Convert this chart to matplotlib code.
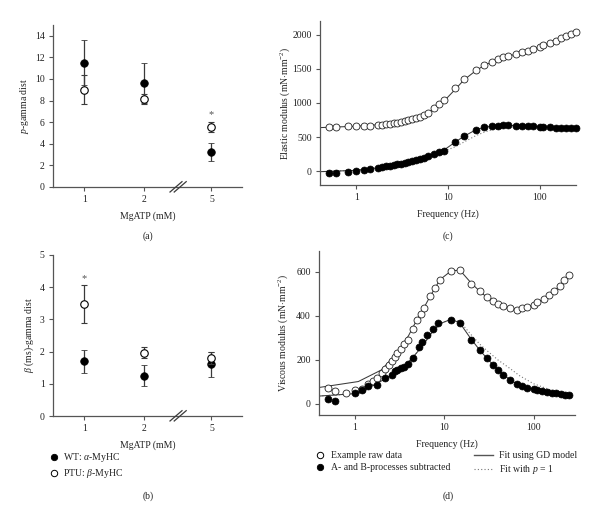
import matplotlib
matplotlib.use("Agg")
import matplotlib.pyplot as plt
import numpy as np
from matplotlib.lines import Line2D
from matplotlib.ticker import NullLocator, FixedLocator

plt.rcParams['font.family'] = ['Liberation Serif', 'DejaVu Serif']
plt.rcParams['mathtext.fontset'] = 'custom'
plt.rcParams['mathtext.rm'] = 'Liberation Serif'
plt.rcParams['mathtext.it'] = 'Liberation Serif:italic'
plt.rcParams['font.size'] = 7

FS = 7

# ---------------- data: panels (a), (b) ----------------
mgatp_labels = ['1', '2', '5']
mgatp_pos = [1.0, 2.0, 3.12]

p_wt = [11.5, 9.65, 3.25]
p_wt_err = [2.1, 1.85, 0.85]
p_ptu = [9.0, 8.15, 5.55]
p_ptu_err = [1.35, 0.45, 0.45]

beta_wt = [1.7, 1.25, 1.6]
beta_wt_err = [0.35, 0.33, 0.38]
beta_ptu = [3.48, 1.97, 1.8]
beta_ptu_err = [0.6, 0.18, 0.2]

# ---------------- data: panel (c) elastic modulus ----------------
freq_c = [0.5, 0.6, 0.8, 1.0, 1.2, 1.4, 1.7, 1.9, 2.1, 2.3, 2.6, 2.8, 3.1, 3.4,
          3.7, 4.0, 4.5, 5.0, 5.5, 6.0, 7.0, 8.0, 9.0, 12, 15, 20, 25, 30, 35,
          40, 45, 55, 65, 75, 85, 100, 110, 130, 150, 170, 195, 220, 250]
elastic_raw = [650, 650, 660, 665, 665, 670, 675, 685, 690, 695, 700, 710, 720,
               730, 745, 760, 780, 800, 830, 860, 920, 985, 1040, 1215, 1350,
               1478, 1558, 1607, 1640, 1670, 1692, 1718, 1743, 1767, 1791, 1825,
               1850, 1883, 1912, 1946, 1980, 2015, 2039]
elastic_sub = [-20, -28, -5, 12, 22, 30, 44, 58, 72, 80, 90, 100, 110, 120, 135,
               150, 165, 180, 200, 225, 255, 280, 295, 427, 515, 605, 645, 660,
               668, 675, 672, 668, 668, 663, 658, 653, 648, 643, 640, 638, 637,
               636, 635]
fit_freq_c = [0.4, 1.0, 2.0, 3.0, 4.0, 5.0, 6.0, 7.0, 8.0, 9.0, 12, 15, 20, 25,
              30, 40, 55, 70, 100, 150, 250]
fit_raw_c = [640, 660, 688, 718, 758, 800, 855, 912, 968, 1025, 1200, 1340, 1470,
             1552, 1600, 1665, 1715, 1752, 1818, 1908, 2035]
fit_sub_c = [-5, 15, 62, 108, 148, 185, 222, 255, 282, 310, 428, 515, 605, 645,
             660, 672, 670, 665, 655, 645, 637]
fit_p1_c = [-5, 15, 62, 108, 148, 185, 222, 250, 272, 292, 360, 430, 520, 575,
            605, 635, 648, 650, 648, 642, 636]

# ---------------- data: panel (d) viscous modulus ----------------
freq_d = [0.5, 0.6, 0.8, 1.0, 1.2, 1.4, 1.6, 1.8, 2.0, 2.2, 2.4, 2.6, 2.8, 3.0,
          3.3, 3.6, 3.9, 4.5, 5.0, 5.5, 6.0, 7.0, 8.0, 9.0, 12, 15, 20, 25, 30,
          35, 40, 45, 55, 65, 75, 85, 100, 110, 130, 150, 170, 195, 220, 250]
viscous_raw = [72, 58, 50, 62, 68, 90, 105, 118, 140, 160, 178, 195, 212, 232,
               250, 272, 290, 340, 383, 410, 435, 490, 527, 562, 605, 610, 547,
               512, 485, 467, 456, 444, 436, 428, 435, 442, 450, 465, 477, 495,
               515, 538, 562, 588]
freq_d_sub = [0.5, 0.6, 1.0, 1.2, 1.4, 1.8, 2.2, 2.6, 2.8, 3.0, 3.3, 3.6, 3.9,
              4.5, 5.3, 5.7, 6.5, 7.5, 8.5, 12, 15, 20, 25, 30, 35, 40, 45, 55,
              65, 75, 85, 100, 110, 125, 140, 160, 180, 200, 225, 250]
viscous_sub = [22, 15, 50, 62, 80, 88, 118, 130, 150, 156, 163, 170, 180, 208,
               258, 280, 315, 342, 368, 383, 370, 292, 244, 207, 178, 155, 132,
               108, 90, 80, 73, 67, 63, 59, 55, 51, 48, 45, 43, 41]
fit_freq_d = [0.4, 1.1, 2.0, 2.5, 3.0, 4.0, 5.0, 6.0, 7.0, 8.0, 9.0, 12, 15, 20,
              25, 30, 40, 55, 70, 100, 150, 200, 250]
fit_raw_d = [75, 102, 155, 198, 235, 310, 385, 440, 490, 530, 565, 605, 608, 550,
             512, 485, 455, 436, 430, 450, 495, 540, 588]
fit_sub_d = [36, 48, 105, 128, 150, 190, 235, 275, 315, 342, 365, 385, 368, 295,
             245, 208, 155, 108, 85, 67, 54, 47, 42]
fit_p1_d = [36, 48, 105, 128, 150, 190, 235, 275, 315, 342, 365, 385, 375, 315,
            272, 243, 200, 160, 128, 92, 66, 54, 46]

# ---------------- figure ----------------
fig = plt.figure(figsize=(6.0, 5.21), dpi=100)

W, H = 600.0, 521.0
def ax_at(left, top, right, bottom):
    return fig.add_axes([left / W, 1 - bottom / H, (right - left) / W, (bottom - top) / H])

axA = ax_at(53, 25, 242, 187)
axB = ax_at(53, 255, 242, 416)
axC = ax_at(320, 21, 576, 185)
axD = ax_at(319, 251, 575, 415)

spine_col = '#555555'
line_col = '#3a3a3a'
text_col = '#222222'

def style(ax):
    for s in ['top', 'right']:
        ax.spines[s].set_visible(False)
    for s in ['left', 'bottom']:
        ax.spines[s].set_color(spine_col)
        ax.spines[s].set_linewidth(0.9)
    ax.tick_params(direction='out', length=3, width=0.8, color=spine_col,
                   labelsize=FS, labelcolor=text_col, pad=3)

def mgatp_panel(ax, wt, wt_err, ptu, ptu_err, ylim, yticks, ylabel):
    style(ax)
    ax.errorbar(mgatp_pos, wt, yerr=wt_err, fmt='o', ms=5.4, mfc='black',
                mec='black', mew=0.6, ecolor=line_col, elinewidth=0.9,
                capsize=2.3, capthick=0.9, zorder=3)
    ax.errorbar(mgatp_pos, ptu, yerr=ptu_err, fmt='o', ms=5.4, mfc='white',
                mec='black', mew=0.8, ecolor=line_col, elinewidth=0.9,
                capsize=2.3, capthick=0.9, zorder=4)
    ax.set_xlim(0.48, 3.63)
    ax.set_ylim(*ylim)
    ax.set_xticks(mgatp_pos)
    ax.set_xticklabels(mgatp_labels)
    ax.set_yticks(yticks)
    ax.set_xlabel('MgATP (mM)', color=text_col, labelpad=5)
    ax.set_ylabel(ylabel, color=text_col, labelpad=2.5)
    tr = ax.get_xaxis_transform()
    for x0, x1 in [(2.43, 2.63), (2.50, 2.70)]:
        ax.plot([x0, x1], [-0.031, 0.033], color=line_col, lw=0.9,
                transform=tr, clip_on=False, zorder=5)

mgatp_panel(axA, p_wt, p_wt_err, p_ptu, p_ptu_err, (0, 15), range(0, 15, 2),
            r'$p$-gamma dist')
axA.text(mgatp_pos[2], 6.25, '*', ha='center', va='bottom', fontsize=7.5, color='#555555')

mgatp_panel(axB, beta_wt, beta_wt_err, beta_ptu, beta_ptu_err, (0, 5), range(0, 6),
            r'$\beta$ (ms)-gamma dist')
axB.text(mgatp_pos[0], 4.12, '*', ha='center', va='bottom', fontsize=7.5, color='#555555')

leg_b = [Line2D([], [], ls='none', marker='o', ms=4.6, mfc='black', mec='black', mew=0.6),
         Line2D([], [], ls='none', marker='o', ms=4.6, mfc='white', mec='black', mew=0.7)]
fig.legend(leg_b, [r'WT: $\alpha$-MyHC', r'PTU: $\beta$-MyHC'], loc='upper left',
           bbox_to_anchor=(50 / W, 1 - 451 / H), frameon=False, fontsize=FS,
           handlelength=0.9, handletextpad=0.45, labelspacing=0.3, borderpad=0,
           borderaxespad=0, labelcolor=text_col)

def freq_panel(ax):
    style(ax)
    ax.set_xscale('log')
    ax.xaxis.set_major_locator(FixedLocator([1, 10, 100]))
    ax.xaxis.set_minor_locator(NullLocator())
    ax.set_xticklabels(['1', '10', '100'])
    ax.set_xlabel('Frequency (Hz)', color=text_col, labelpad=5)

# panel (c)
freq_panel(axC)
axC.plot(fit_freq_c, fit_p1_c, color='#777777', lw=0.8, ls=(0, (1, 2)), zorder=2)
axC.plot(fit_freq_c, fit_raw_c, color=line_col, lw=0.75, zorder=2)
axC.plot(fit_freq_c, fit_sub_c, color=line_col, lw=0.75, zorder=2)
axC.plot(freq_c, elastic_raw, ls='none', marker='o', ms=5.0, mfc='white',
         mec='#222222', mew=0.6, zorder=3, clip_on=False)
axC.plot(freq_c, elastic_sub, ls='none', marker='o', ms=5.0, mfc='black',
         mec='black', mew=0.5, zorder=3, clip_on=False)
axC.set_xlim(0.4, 250)
axC.set_ylim(-200, 2200)
axC.set_yticks([0, 500, 1000, 1500, 2000])
axC.set_ylabel(r'Elastic modulus (mN$\cdot$mm$^{-2}$)', color=text_col, labelpad=0)

# panel (d)
freq_panel(axD)
axD.plot(fit_freq_d, fit_p1_d, color='#777777', lw=0.8, ls=(0, (1, 2)), zorder=2)
axD.plot(fit_freq_d, fit_raw_d, color=line_col, lw=0.75, zorder=2)
axD.plot(fit_freq_d, fit_sub_d, color=line_col, lw=0.75, zorder=2)
axD.plot(freq_d, viscous_raw, ls='none', marker='o', ms=5.0, mfc='white',
         mec='#222222', mew=0.6, zorder=3, clip_on=False)
axD.plot(freq_d_sub, viscous_sub, ls='none', marker='o', ms=5.0, mfc='black',
         mec='black', mew=0.5, zorder=3, clip_on=False)
axD.set_xlim(0.4, 290)
axD.set_ylim(-50, 695)
axD.set_yticks([0, 200, 400, 600])
axD.set_ylabel(r'Viscous modulus (mN$\cdot$mm$^{-2}$)', color=text_col, labelpad=4)

leg_d1 = [Line2D([], [], ls='none', marker='o', ms=4.6, mfc='white', mec='black', mew=0.7),
          Line2D([], [], ls='none', marker='o', ms=4.6, mfc='black', mec='black', mew=0.6)]
fig.legend(leg_d1, ['Example raw data', 'A- and B-processes subtracted'], loc='upper left',
           bbox_to_anchor=(316 / W, 1 - 451 / H), frameon=False, fontsize=FS,
           handlelength=0.9, handletextpad=0.6, labelspacing=0.3, borderpad=0,
           borderaxespad=0, labelcolor=text_col)
leg_d2 = [Line2D([], [], color='#555555', lw=1.0),
          Line2D([], [], color='#777777', lw=0.8, ls=(0, (1, 2)))]
fig.legend(leg_d2, ['Fit using GD model', r'Fit with $p$ = 1'], loc='upper left',
           bbox_to_anchor=(474 / W, 1 - 451 / H), frameon=False, fontsize=FS,
           handlelength=2.0, handletextpad=0.6, labelspacing=0.3, borderpad=0,
           borderaxespad=0, labelcolor=text_col)

# captions
for lab, x, y in [('(a)', 148, 236), ('(b)', 148, 496), ('(c)', 448, 236), ('(d)', 448, 496)]:
    fig.text(x / W, 1 - y / H, lab, ha='center', va='center', fontsize=FS, color=text_col)

fig.savefig('out.png', dpi=100)
